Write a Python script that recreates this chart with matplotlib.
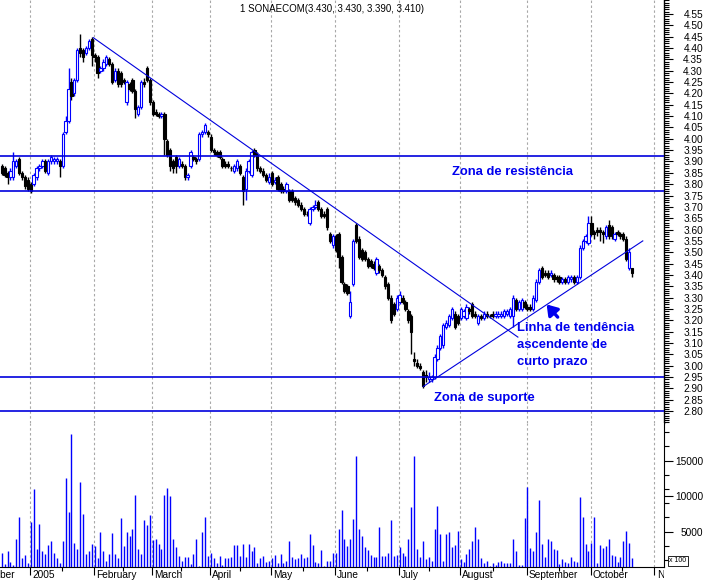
import numpy as np
import matplotlib
matplotlib.use("Agg")
import matplotlib.pyplot as plt
from matplotlib.ticker import FixedLocator, FixedFormatter, NullFormatter

plt.rcParams["font.family"] = ["Liberation Sans", "DejaVu Sans"]

# daily candles (open, high, low, close), one list per month
dec04 = [(3.88, 3.89, 3.84, 3.85), (3.87, 3.88, 3.83, 3.84), (3.85, 3.86, 3.80, 3.83),
         (3.83, 3.87, 3.82, 3.86), (3.83, 3.94, 3.82, 3.90), (3.88, 3.91, 3.87, 3.90),
         (3.91, 3.92, 3.84, 3.85), (3.85, 3.86, 3.82, 3.83), (3.83, 3.84, 3.78, 3.79),
         (3.82, 3.83, 3.77, 3.78)]
jan05 = [(3.80, 3.81, 3.76, 3.77), (3.80, 3.85, 3.79, 3.84), (3.83, 3.88, 3.82, 3.87),
         (3.87, 3.89, 3.86, 3.88), (3.88, 3.91, 3.87, 3.90), (3.90, 3.91, 3.85, 3.86),
         (3.85, 3.91, 3.84, 3.90), (3.90, 3.93, 3.89, 3.92), (3.90, 3.92, 3.89, 3.91),
         (3.90, 3.92, 3.89, 3.91), (3.90, 3.91, 3.83, 3.88), (3.88, 4.03, 3.87, 4.02),
         (4.03, 4.10, 4.02, 4.08), (4.08, 4.31, 4.07, 4.22), (4.25, 4.27, 4.17, 4.19),
         (4.20, 4.27, 4.19, 4.26), (4.26, 4.40, 4.25, 4.39), (4.40, 4.46, 4.36, 4.38),
         (4.39, 4.40, 4.34, 4.36), (4.38, 4.41, 4.37, 4.40), (4.40, 4.44, 4.39, 4.43),
         (4.44, 4.45, 4.32, 4.37)]
feb05 = [(4.37, 4.38, 4.34, 4.36), (4.36, 4.37, 4.27, 4.29), (4.30, 4.32, 4.29, 4.31),
         (4.31, 4.35, 4.30, 4.34), (4.33, 4.37, 4.32, 4.36), (4.35, 4.36, 4.32, 4.33),
         (4.33, 4.34, 4.24, 4.25), (4.26, 4.31, 4.25, 4.30), (4.30, 4.31, 4.23, 4.24),
         (4.29, 4.30, 4.23, 4.24), (4.26, 4.27, 4.24, 4.25), (4.16, 4.26, 4.15, 4.25),
         (4.24, 4.25, 4.21, 4.22), (4.26, 4.27, 4.20, 4.21), (4.21, 4.22, 4.09, 4.13),
         (4.11, 4.15, 4.10, 4.14), (4.14, 4.26, 4.13, 4.25), (4.25, 4.27, 4.23, 4.24),
         (4.31, 4.32, 4.25, 4.26), (4.26, 4.27, 4.15, 4.16)]
mar05 = [(4.16, 4.17, 4.10, 4.11), (4.12, 4.13, 4.10, 4.11), (4.11, 4.12, 4.09, 4.10),
         (4.10, 4.12, 4.09, 4.11), (4.11, 4.12, 3.93, 4.00), (3.99, 4.00, 3.92, 3.93),
         (3.95, 3.96, 3.86, 3.88), (3.90, 3.91, 3.85, 3.87), (3.92, 3.93, 3.85, 3.88),
         (3.88, 3.92, 3.87, 3.91), (3.89, 3.90, 3.87, 3.88), (3.88, 3.89, 3.82, 3.83),
         (3.83, 3.85, 3.82, 3.84), (3.88, 3.95, 3.87, 3.94), (3.92, 3.93, 3.90, 3.91),
         (3.91, 3.92, 3.89, 3.90), (3.91, 4.03, 3.90, 4.02), (4.02, 4.04, 4.01, 4.03),
         (4.03, 4.07, 4.02, 4.06), (4.03, 4.04, 4.01, 4.02)]
apr05 = [(4.01, 4.02, 3.94, 3.95), (3.95, 3.96, 3.93, 3.94), (3.94, 3.95, 3.92, 3.93),
         (3.94, 3.95, 3.91, 3.92), (3.91, 3.92, 3.87, 3.88), (3.89, 3.90, 3.87, 3.88),
         (3.89, 3.90, 3.87, 3.88), (3.87, 3.88, 3.86, 3.87), (3.86, 3.89, 3.85, 3.88),
         (3.87, 3.91, 3.86, 3.90), (3.88, 3.89, 3.84, 3.85), (3.83, 3.84, 3.71, 3.77),
         (3.78, 3.87, 3.73, 3.86), (3.86, 3.91, 3.85, 3.90), (3.84, 3.95, 3.83, 3.94),
         (3.95, 3.96, 3.92, 3.93), (3.93, 3.94, 3.86, 3.87), (3.87, 3.88, 3.85, 3.86),
         (3.86, 3.87, 3.83, 3.84), (3.84, 3.85, 3.81, 3.82), (3.81, 3.85, 3.80, 3.83)]
may05 = [(3.85, 3.86, 3.79, 3.80), (3.81, 3.83, 3.80, 3.82), (3.83, 3.84, 3.77, 3.78),
         (3.80, 3.81, 3.76, 3.77), (3.78, 3.79, 3.76, 3.77), (3.77, 3.81, 3.76, 3.80),
         (3.77, 3.78, 3.72, 3.73), (3.77, 3.78, 3.72, 3.73), (3.74, 3.75, 3.71, 3.72),
         (3.73, 3.74, 3.70, 3.71), (3.71, 3.72, 3.68, 3.69), (3.69, 3.70, 3.66, 3.67),
         (3.67, 3.68, 3.66, 3.67), (3.63, 3.70, 3.62, 3.69), (3.69, 3.71, 3.68, 3.70),
         (3.70, 3.73, 3.69, 3.71), (3.72, 3.73, 3.68, 3.69), (3.69, 3.70, 3.65, 3.66),
         (3.67, 3.68, 3.65, 3.66), (3.69, 3.70, 3.60, 3.61), (3.58, 3.59, 3.54, 3.55),
         (3.53, 3.58, 3.52, 3.57)]
jun05 = [(3.57, 3.58, 3.50, 3.51), (3.58, 3.59, 3.43, 3.48), (3.48, 3.49, 3.36, 3.37),
         (3.36, 3.37, 3.32, 3.33), (3.35, 3.36, 3.31, 3.32), (3.22, 3.33, 3.21, 3.28),
         (3.36, 3.56, 3.35, 3.55), (3.62, 3.63, 3.54, 3.55), (3.56, 3.57, 3.47, 3.48),
         (3.51, 3.52, 3.46, 3.47), (3.50, 3.51, 3.46, 3.47), (3.47, 3.48, 3.43, 3.44),
         (3.46, 3.47, 3.43, 3.44), (3.45, 3.46, 3.42, 3.43), (3.41, 3.48, 3.40, 3.47),
         (3.44, 3.45, 3.41, 3.42), (3.42, 3.43, 3.39, 3.40), (3.39, 3.40, 3.34, 3.35),
         (3.36, 3.37, 3.29, 3.30), (3.30, 3.31, 3.19, 3.20), (3.27, 3.28, 3.22, 3.23),
         (3.25, 3.31, 3.24, 3.30)]
jul05 = [(3.28, 3.33, 3.27, 3.31), (3.30, 3.31, 3.27, 3.28), (3.28, 3.29, 3.24, 3.25),
         (3.24, 3.25, 3.19, 3.20), (3.22, 3.23, 3.05, 3.15), (3.03, 3.06, 3.00, 3.02),
         (3.01, 3.03, 2.99, 3.00), (3.00, 3.01, 2.98, 2.99), (2.97, 2.98, 2.90, 2.91),
         (2.96, 2.98, 2.93, 2.95), (2.94, 2.97, 2.93, 2.95), (2.94, 2.96, 2.93, 2.95),
         (2.95, 3.05, 2.94, 3.04), (3.03, 3.09, 3.02, 3.08), (3.08, 3.14, 3.07, 3.13),
         (3.09, 3.19, 3.08, 3.18), (3.17, 3.20, 3.16, 3.19), (3.18, 3.23, 3.17, 3.22),
         (3.21, 3.26, 3.20, 3.25), (3.23, 3.24, 3.16, 3.17), (3.22, 3.23, 3.18, 3.19)]
aug05 = [(3.21, 3.26, 3.20, 3.25), (3.22, 3.25, 3.21, 3.24), (3.21, 3.27, 3.20, 3.26),
         (3.25, 3.26, 3.23, 3.24), (3.27, 3.28, 3.21, 3.22), (3.23, 3.24, 3.21, 3.22),
         (3.19, 3.23, 3.18, 3.22), (3.22, 3.23, 3.20, 3.21), (3.21, 3.24, 3.20, 3.23),
         (3.23, 3.24, 3.21, 3.22), (3.22, 3.23, 3.21, 3.22), (3.23, 3.24, 3.21, 3.22),
         (3.22, 3.24, 3.21, 3.23), (3.22, 3.24, 3.21, 3.23), (3.22, 3.24, 3.21, 3.23),
         (3.22, 3.25, 3.21, 3.24), (3.23, 3.25, 3.22, 3.24), (3.22, 3.26, 3.21, 3.25),
         (3.22, 3.31, 3.17, 3.30), (3.29, 3.30, 3.24, 3.25), (3.25, 3.29, 3.24, 3.28),
         (3.25, 3.30, 3.24, 3.29), (3.28, 3.29, 3.25, 3.26)]
sep05 = [(3.26, 3.27, 3.24, 3.25), (3.26, 3.27, 3.24, 3.25), (3.25, 3.31, 3.24, 3.30),
         (3.29, 3.38, 3.28, 3.37), (3.37, 3.43, 3.36, 3.42), (3.43, 3.44, 3.38, 3.39),
         (3.41, 3.42, 3.39, 3.40), (3.41, 3.42, 3.38, 3.39), (3.40, 3.42, 3.39, 3.41),
         (3.40, 3.41, 3.37, 3.38), (3.39, 3.40, 3.37, 3.38), (3.39, 3.40, 3.36, 3.37),
         (3.37, 3.39, 3.36, 3.38), (3.38, 3.39, 3.36, 3.37), (3.37, 3.40, 3.36, 3.39),
         (3.38, 3.40, 3.37, 3.39), (3.39, 3.40, 3.36, 3.37), (3.37, 3.40, 3.36, 3.39),
         (3.39, 3.53, 3.38, 3.52), (3.52, 3.56, 3.51, 3.55), (3.55, 3.58, 3.54, 3.57),
         (3.54, 3.66, 3.53, 3.63)]
oct05 = [(3.63, 3.66, 3.57, 3.58), (3.59, 3.60, 3.56, 3.58), (3.60, 3.61, 3.57, 3.59),
         (3.60, 3.61, 3.55, 3.59), (3.59, 3.60, 3.54, 3.58), (3.57, 3.62, 3.56, 3.61),
         (3.62, 3.64, 3.56, 3.57), (3.61, 3.62, 3.56, 3.57), (3.56, 3.59, 3.55, 3.58),
         (3.59, 3.60, 3.57, 3.58), (3.58, 3.59, 3.56, 3.57), (3.58, 3.59, 3.55, 3.56),
         (3.56, 3.57, 3.46, 3.47), (3.43, 3.52, 3.42, 3.50), (3.43, 3.43, 3.39, 3.41)]

# daily volume (x 100 shares), same days as the candles
vol_dec04 = [2000, 470, 2200, 760, 300, 4000, 7000, 1300, 1700, 600]
vol_jan05 = [6300, 11000, 2600, 6000, 2300, 1900, 3100, 3700, 2000, 1200, 500,
             3700, 12500, 7800, 18700, 3400, 2500, 12000, 7500, 1850, 2200, 3300]
vol_feb05 = [2900, 1300, 4900, 2300, 800, 1850, 4850, 1850, 1300, 6900,
             3000, 5000, 4300, 5300, 10100, 2600, 1850, 6600, 5900, 7300]
vol_mar05 = [3800, 4000, 3300, 2600, 10100, 11100, 10000, 4000, 2800, 1500,
             900, 1400, 1400, 400, 1850, 3900, 200, 5000, 7000, 1500]
vol_apr05 = [2000, 1300, 600, 1500, 300, 1300, 1200, 1400, 3100, 3100, 1600,
             3300, 1400, 3300, 2300, 2800, 500, 1200, 1500, 750, 900]
vol_may05 = [1300, 1700, 600, 1800, 500, 800, 3600, 1400, 1100, 1300, 1850,
             1300, 1400, 4700, 3100, 750, 600, 2400, 200, 800, 900, 2000]
vol_jun05 = [2000, 5300, 8000, 4000, 3000, 4000, 6700, 15600, 5400, 4400, 2800,
             2400, 1700, 1400, 1400, 5700, 1600, 1600, 2000, 6600, 1600, 1700]
vol_jul05 = [2800, 2000, 1600, 3900, 8400, 15600, 2600, 1400, 3600, 1100, 1400,
             900, 5400, 8600, 4600, 900, 4700, 5000, 2800, 3100, 5100]
vol_aug05 = [1100, 700, 1900, 2600, 3600, 5600, 4000, 1300, 600, 900, 200, 600,
             300, 700, 900, 600, 600, 600, 4000, 2300, 300, 300, 6900]
vol_sep05 = [11300, 2700, 2300, 4900, 9400, 3300, 1400, 3900, 3700, 2600, 2400,
             400, 1100, 700, 600, 1400, 900, 700, 9900, 7000, 3300, 2200]
vol_oct05 = [3400, 7100, 600, 3100, 2700, 2900, 3900, 1700, 1600, 700, 1400,
             3700, 5100, 3400, 1300]

# first trading day of each month (index into the daily series)
month_starts = [-12, 10, 32, 52, 72, 93, 115, 137, 158, 181, 203, 225]
month_labels = ["December", "2005", "February", "March", "April", "May", "June",
                "July", "August", "September", "October", "November"]

resistance_levels = [3.925, 3.77]
support_levels = [2.95, 2.80]
down_trend = ([31.5, 177.7], [4.446, 3.126])
up_trend = ([145.1, 220.7], [2.908, 3.55])

candles = dec04 + jan05 + feb05 + mar05 + apr05 + may05 + jun05 + jul05 + aug05 + sep05 + oct05
volumes = (vol_dec04 + vol_jan05 + vol_feb05 + vol_mar05 + vol_apr05 + vol_may05
           + vol_jun05 + vol_jul05 + vol_aug05 + vol_sep05 + vol_oct05)

o, h, l, c = (np.array(col) for col in zip(*candles))
idx = np.arange(len(candles))

BLUE = "#0000ff"
LINE = "#0000dd"
W, H = 707, 582
fig = plt.figure(figsize=(W / 100, H / 100), dpi=100)


def px_axes(x0, y0, x1, y1):
    return fig.add_axes([x0 / W, 1 - y1 / H, (x1 - x0) / W, (y1 - y0) / H])


ax = px_axes(0, 0, 664, 423)
axv = px_axes(0, 423, 664, 567)
axl = px_axes(0, 567, 664, 582)

XLIM = (-0.585, 228.0)
for a in (ax, axv, axl):
    a.set_xlim(*XLIM)

# month grid
for s in month_starts:
    for a in (ax, axv):
        a.axvline(s - 0.3, color="#a8a8a8", lw=0.8, dashes=(2.2, 2.2), zorder=1)

# candles
up = c > o
edge = np.where(up, BLUE, "black")
face = np.where(up, "white", "black")
ax.vlines(idx, l, h, colors=edge, lw=1.0, zorder=2)
ax.bar(idx, np.abs(c - o), bottom=np.minimum(o, c), width=0.8,
       color=face, edgecolor=edge, linewidth=0.8, zorder=3)

for lvl in resistance_levels + support_levels:
    ax.axhline(lvl, color=LINE, lw=1.2, zorder=4)
ax.plot(*down_trend, color=LINE, lw=0.8, zorder=4)
ax.plot(*up_trend, color=LINE, lw=0.8, zorder=4)

ax.set_ylim(2.7474, 4.6117)
ax.yaxis.tick_right()
ax.yaxis.set_major_locator(FixedLocator(np.round(np.arange(2.80, 4.551, 0.05), 2)))
ax.yaxis.set_minor_locator(FixedLocator(np.round(np.arange(2.75, 4.611, 0.01), 2)))
ax.yaxis.set_major_formatter(plt.FuncFormatter(lambda v, p: f"{v:.2f}"))
ax.tick_params(axis="y", which="major", length=6.5, width=0.8, labelsize=7.3, pad=21.6)
ax.tick_params(axis="y", which="minor", length=3.4, width=0.8)
ax.tick_params(axis="x", bottom=False, labelbottom=False)
for sp in ("left", "top", "bottom"):
    ax.spines[sp].set_visible(False)
ax.spines["right"].set_linewidth(1.0)

txt_kw = dict(color="#0000ee", fontsize=9.4, fontweight="bold", zorder=6)
ax.text(155.0, 3.854, "Zona de resistência", va="center", **txt_kw)
ax.text(148.8, 2.858, "Zona de suporte", va="center", **txt_kw)
ax.text(177.4, 3.192, "Linha de tendência\nascendente de\ncurto prazo",
        va="top", linespacing=1.55, **txt_kw)
ax.annotate("", xy=(187.6, 3.270), xytext=(191.4, 3.214),
            arrowprops=dict(arrowstyle="-|>,head_length=0.6,head_width=0.4",
                            lw=2.4, color="#0000ee", shrinkA=0, shrinkB=0), zorder=6)

# volume
axv.vlines(idx, 0, volumes, colors=BLUE, lw=1.0, zorder=3)
axv.set_ylim(0, 20300)
axv.yaxis.tick_right()
axv.yaxis.set_major_locator(FixedLocator([5000, 10000, 15000]))
axv.yaxis.set_major_formatter(FixedFormatter(["5000", "10000", "15000"]))
axv.yaxis.set_minor_locator(FixedLocator(list(range(1000, 20000, 2000))))
axv.tick_params(axis="y", which="major", length=6.5, width=0.8, labelsize=7.3, pad=21.6)
axv.tick_params(axis="y", which="minor", length=3.4, width=0.8)
grid_x = [s - 0.3 for s in month_starts]
mid_x = [(a + b) / 2 for a, b in zip(grid_x[:-1], grid_x[1:])]
axv.xaxis.set_major_locator(FixedLocator(grid_x))
axv.xaxis.set_minor_locator(FixedLocator(mid_x))
axv.xaxis.set_major_formatter(NullFormatter())
axv.tick_params(axis="x", which="major", length=5.8, width=0.8)
axv.tick_params(axis="x", which="minor", length=3.0, width=0.8)
for sp in ("left", "top"):
    axv.spines[sp].set_visible(False)

for a in (ax, axv):
    for t in a.get_yticklabels():
        t.set_horizontalalignment("right")

# month names, clipped at the plot edges as in the original terminal screenshot
axl.set_axis_off()
axl.set_ylim(0, 1)
for s, name in zip(month_starts, month_labels):
    axl.text(s - 0.3 + 0.8, 0.45, name, fontsize=7.3, va="center", ha="left", clip_on=True)

fig.text(240 / W, 1 - 9 / H, f"1 SONAECOM({o[-1]:.3f}, {h[-1]:.3f}, {l[-1]:.3f}, {c[-1]:.3f})",
         fontsize=7, va="center", ha="left")
fig.text(669 / W, 1 - 561 / H, "x 100", fontsize=5, va="center", ha="left",
         bbox=dict(boxstyle="square,pad=0.2", fc="white", ec="black", lw=0.6))

fig.savefig("out.png", dpi=100, facecolor="white")
